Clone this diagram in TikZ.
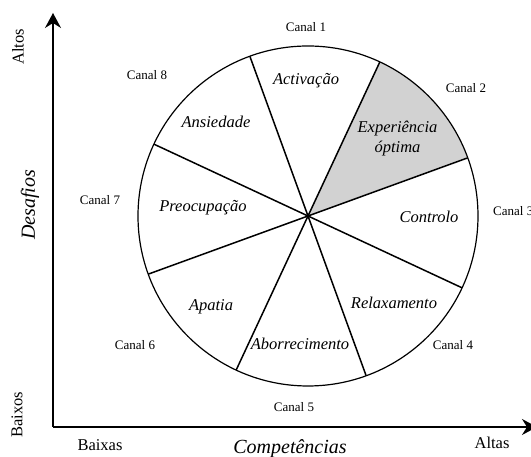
\documentclass[tikz,border=0pt]{standalone}
\usepackage{fontspec}
\setmainfont{Liberation Serif}
\usetikzlibrary{arrows.meta,calc}
\begin{document}
\begin{tikzpicture}[x=1pt,y=1pt,
  canal/.style={font=\fontsize{13}{15}\selectfont, inner sep=0pt},
  sector/.style={font=\fontsize{16.5}{20}\selectfont\itshape, inner sep=0pt},
  axend/.style={font=\fontsize{16.5}{20}\selectfont, inner sep=0pt},
  axtitle/.style={font=\fontsize{20}{24}\selectfont\itshape, inner sep=0pt},
  spoke/.style={line width=1.5pt},
  axis/.style={line width=1.4pt, -{Stealth[length=15pt,width=16pt,inset=5pt]}}]
\useasboundingbox (0,0) rectangle (531,457);
\coordinate (c) at (308,241);
\def\R{170}
% shaded sector
\fill[gray!35] (c) -- ++(20:\R) arc[start angle=20,end angle=65,radius=\R] -- cycle;
\draw[line width=1.2pt] (c) circle[radius=\R];
\foreach \a/\n in {110/s1,65/s2,20/s3,-25/s4,-70/s5,-115/s6,200/s7,155/s8}{
  \coordinate (\n) at ($(c)+(\a:\R)$);
}
\foreach \n in {s1,s2,s3,s4,s5,s6,s7,s8}{
  \draw[spoke] (c) -- (\n);
}
% axes
\coordinate (o) at (53,30);
\coordinate (ytip) at (53,444);
\coordinate (xtip) at (537,30);
\draw[axis] (o) -- (ytip);
\draw[axis] (o) -- (xtip);
% axis labels
\node[axend, rotate=90] (altos) at (18,410) {Altos};
\node[axend, rotate=90] (baixos) at (17,42) {Baixos};
\node[axtitle, rotate=90] (desafios) at (30,252) {Desafios};
\node[axend] (baixas) at (100,12) {Baixas};
\node[axtitle] (comp) at (290,8) {Competências};
\node[axend] (altas) at (492,14) {Altas};
% canals
\node[canal] (c1) at (306,430) {Canal 1};
\node[canal] (c2) at (466,369) {Canal 2};
\node[canal, anchor=west] (c3) at (493,246) {Canal 3};
\node[canal] (c4) at (453,112) {Canal 4};
\node[canal] (c5) at (294,50) {Canal 5};
\node[canal] (c6) at (135,112) {Canal 6};
\node[canal] (c7) at (100,257) {Canal 7};
\node[canal] (c8) at (147,382) {Canal 8};
% sector labels
\node[sector] (act) at (306,376) {Activação};
\node[sector, align=center] (exp) at (397.5,318.5) {Experiência\\óptima};
\node[sector] (ctl) at (429,240) {Controlo};
\node[sector] (rel) at (394,154) {Relaxamento};
\node[sector] (abo) at (300,113) {Aborrecimento};
\node[sector] (apa) at (211,150) {Apatia};
\node[sector] (pre) at (203,249) {Preocupação};
\node[sector] (ans) at (216,335) {Ansiedade};
\end{tikzpicture}
\end{document}
